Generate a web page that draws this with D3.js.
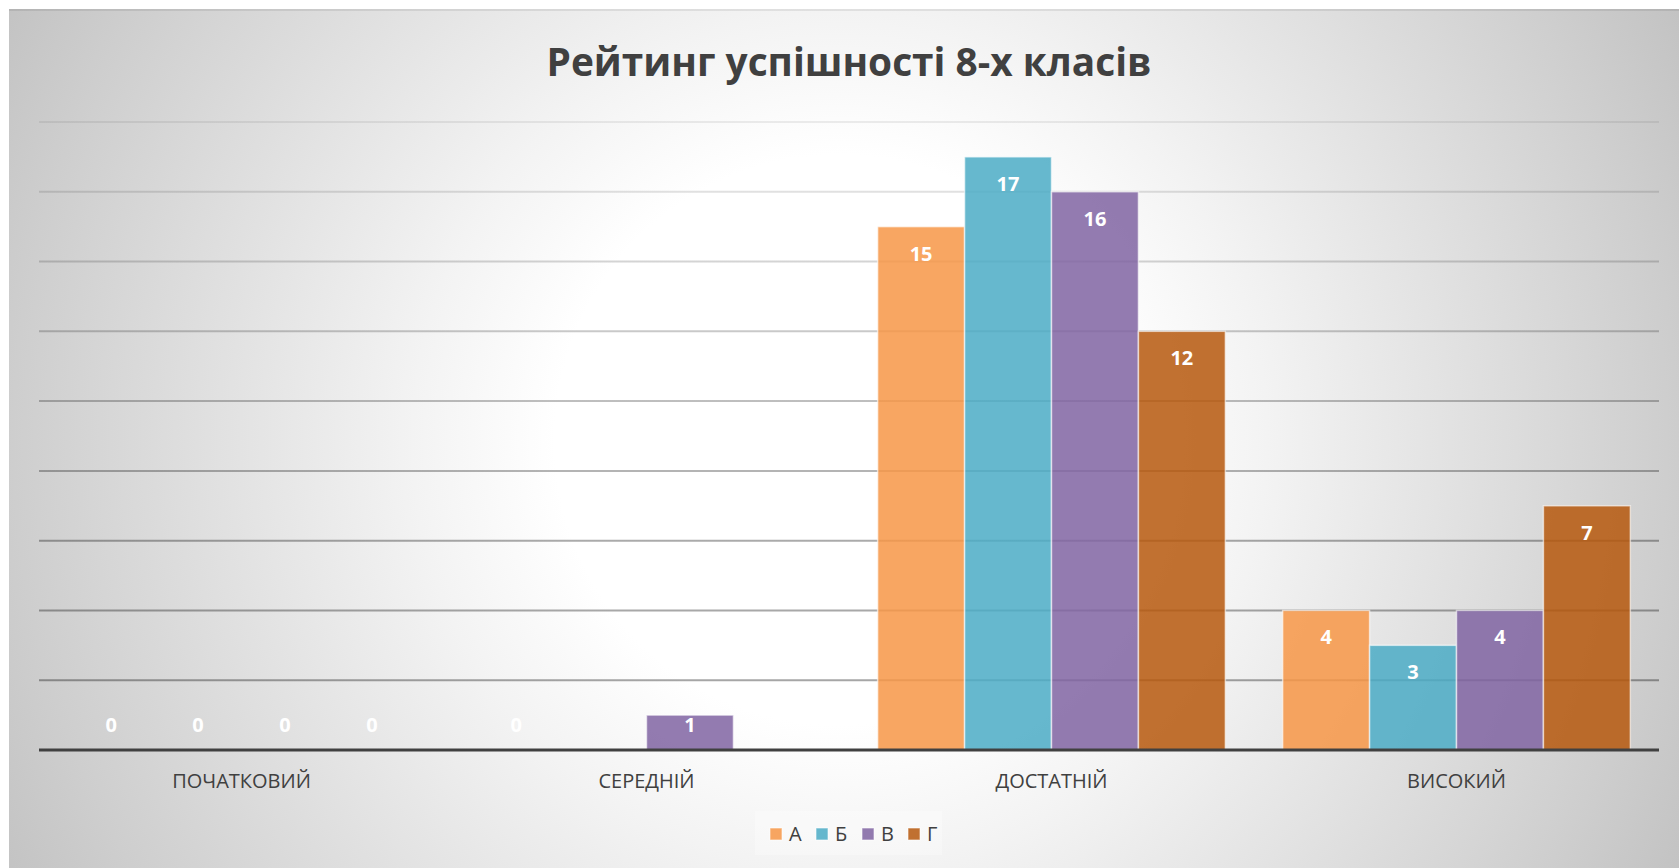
<!DOCTYPE html>
<meta charset="utf-8">
<script src="https://cdn.jsdelivr.net/npm/d3@7"></script>
<style>
body { margin: 0; background: #fff; }
text { font-family: "Open Sans", sans-serif; }
.title { font-size: 40px; font-weight: bold; fill: #404040; }
.cat { font-size: 20px; fill: #404040; }
.lbl { font-size: 20px; font-weight: bold; fill: #fff; }
.leg { font-size: 20px; fill: #404040; }
</style>
<body>
<div id="chart"></div>
<script>
// data (null = empty cell, no label)
var categories = ["ПОЧАТКОВИЙ", "СЕРЕДНІЙ", "ДОСТАТНІЙ", "ВИСОКИЙ"];
var series = ["А", "Б", "В", "Г"];
var valuesA = [0, 0, 15, 4];
var valuesB = [0, null, 17, 3];
var valuesV = [0, 1, 16, 4];
var valuesG = [0, null, 12, 7];
var yTicks = [2, 4, 6, 8, 10, 12, 14, 16, 18];
var colors = ["#F79646", "#4BACC6", "#8064A2", "#B6580D"];

var allValues = [valuesA, valuesB, valuesV, valuesG];

var width = 1679, height = 868;
var svg = d3.select("#chart").append("svg")
    .attr("width", width)
    .attr("height", height);

var defs = svg.append("defs");

// background: round white glow in the middle, grey at the edges
var bg = defs.append("radialGradient")
    .attr("id", "bg")
    .attr("gradientUnits", "userSpaceOnUse")
    .attr("cx", 840).attr("cy", 440).attr("r", 950);
bg.append("stop").attr("offset", 0).attr("stop-color", "#ffffff");
bg.append("stop").attr("offset", 0.3).attr("stop-color", "#ffffff");
bg.append("stop").attr("offset", 0.45).attr("stop-color", "#f3f3f3");
bg.append("stop").attr("offset", 0.87).attr("stop-color", "#cecece");
bg.append("stop").attr("offset", 1).attr("stop-color", "#c2c2c2");

// gridlines get darker towards the bottom
var gg = defs.append("linearGradient")
    .attr("id", "grid")
    .attr("gradientUnits", "userSpaceOnUse")
    .attr("x1", 0).attr("y1", 120).attr("x2", 0).attr("y2", 750);
gg.append("stop").attr("offset", 0).attr("stop-color", "#000").attr("stop-opacity", 0.07);
gg.append("stop").attr("offset", 0.25).attr("stop-color", "#000").attr("stop-opacity", 0.18);
gg.append("stop").attr("offset", 0.65).attr("stop-color", "#000").attr("stop-opacity", 0.33);
gg.append("stop").attr("offset", 1).attr("stop-color", "#000").attr("stop-opacity", 0.36);

svg.append("rect")
    .attr("x", 9).attr("y", 9)
    .attr("width", width - 9).attr("height", height - 9)
    .attr("fill", "url(#bg)");
svg.append("line")
    .attr("x1", 9).attr("x2", width)
    .attr("y1", 10).attr("y2", 10)
    .attr("stroke", "#000").attr("stroke-opacity", 0.08).attr("stroke-width", 2);

// scales
var x0 = d3.scaleBand()
    .domain(categories)
    .range([39, 1659])
    .paddingInner(0.1415)
    .paddingOuter(0.1415 / 2);
var x1 = d3.scaleBand()
    .domain(series)
    .range([0, x0.bandwidth()]);
var y = d3.scaleLinear()
    .domain([0, 18])
    .range([750, 122]);

// title
svg.append("text")
    .attr("class", "title")
    .attr("x", 849).attr("y", 76)
    .attr("text-anchor", "middle")
    .attr("textLength", 605)
    .attr("lengthAdjust", "spacingAndGlyphs")
    .text("Рейтинг успішності 8-х класів");

// gridlines
svg.append("g")
    .selectAll("line")
    .data(yTicks)
    .enter().append("line")
    .attr("x1", 39).attr("x2", 1659)
    .attr("y1", function(d) { return y(d); })
    .attr("y2", function(d) { return y(d); })
    .attr("stroke", "url(#grid)")
    .attr("stroke-width", 2);

// bars
var rows = [];
categories.forEach(function(c, i) {
    series.forEach(function(s, j) {
        if (allValues[j][i] !== null)
            rows.push({cat: c, ser: s, idx: j, value: allValues[j][i]});
    });
});

var bars = svg.append("g");
bars.selectAll("rect")
    .data(rows.filter(function(d) { return d.value > 0; }))
    .enter().append("rect")
    .attr("x", function(d) { return x0(d.cat) + x1(d.ser); })
    .attr("y", function(d) { return y(d.value); })
    .attr("width", x1.bandwidth())
    .attr("height", function(d) { return y(0) - y(d.value); })
    .attr("fill", function(d) { return colors[d.idx]; })
    .attr("fill-opacity", 0.85)
    .attr("stroke", "#fff")
    .attr("stroke-opacity", 0.6)
    .attr("stroke-width", 1.5);

// axis line
svg.append("line")
    .attr("x1", 39).attr("x2", 1659)
    .attr("y1", y(0)).attr("y2", y(0))
    .attr("stroke", "#404040")
    .attr("stroke-width", 3);

// value labels, inside end of each bar
bars.selectAll("text")
    .data(rows)
    .enter().append("text")
    .attr("class", "lbl")
    .attr("text-anchor", "middle")
    .attr("x", function(d) { return x0(d.cat) + x1(d.ser) + x1.bandwidth() / 2; })
    .attr("y", function(d) { return Math.min(y(d.value) + 34, 732); })
    .text(function(d) { return d.value; });

// category labels
svg.append("g")
    .selectAll("text")
    .data(categories)
    .enter().append("text")
    .attr("class", "cat")
    .attr("text-anchor", "middle")
    .attr("x", function(d) { return x0(d) + x0.bandwidth() / 2; })
    .attr("y", 788)
    .text(function(d) { return d; });

// legend
var legend = svg.append("g");
legend.append("rect")
    .attr("x", 755).attr("y", 811)
    .attr("width", 187).attr("height", 44)
    .attr("fill", "#fff").attr("fill-opacity", 0.3);
var item = legend.selectAll("g")
    .data(series)
    .enter().append("g")
    .attr("transform", function(d, i) { return "translate(" + (770 + i * 46) + ",0)"; });
item.append("rect")
    .attr("y", 828)
    .attr("width", 12).attr("height", 12)
    .attr("fill", function(d, i) { return colors[i]; })
    .attr("fill-opacity", 0.85)
    .attr("stroke", "#fff").attr("stroke-opacity", 0.6);
item.append("text")
    .attr("class", "leg")
    .attr("x", 19).attr("y", 841)
    .text(function(d) { return d; });
</script>
</body>
</html>
